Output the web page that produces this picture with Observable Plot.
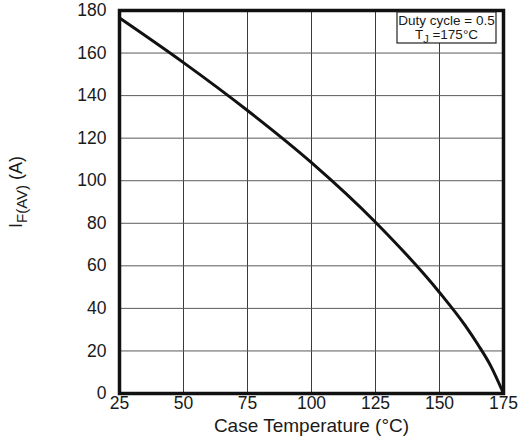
<!DOCTYPE html>
<html>
<head>
<meta charset="utf-8">
<script src="https://cdn.jsdelivr.net/npm/d3@7"></script>
<script src="https://cdn.jsdelivr.net/npm/@observablehq/plot@0.6"></script>
<style>
  body { margin: 0; background: #fff; }
  svg { font-family: "Liberation Sans", Arial, sans-serif; }
</style>
</head>
<body>
<div id="chart"></div>
<script>
const caseTemp = [25, 50, 75, 100, 125, 150, 160, 165, 170, 175];
const current  = [176.5, 155.5, 133, 108.5, 80.5, 47.5, 32, 23, 13, 0];
const xTicks = [25, 50, 75, 100, 125, 150, 175];
const yTicks = [0, 20, 40, 60, 80, 100, 120, 140, 160, 180];
const legendLines = ["Duty cycle = 0.5", "T", "J", " =175°C"];

const data = caseTemp.map((t, i) => ({t, v: current[i]}));

const plot = Plot.plot({
  width: 520,
  height: 439,
  marginLeft: 119,
  marginRight: 17,
  marginTop: 10,
  marginBottom: 46,
  style: {fontSize: "17.5px", fontFamily: "'Liberation Sans', Arial, sans-serif", color: "#1a1a1a", background: "#fff"},
  x: {domain: [25, 175], ticks: xTicks, tickSize: 0, tickPadding: 3, label: null},
  y: {domain: [0, 180], ticks: yTicks, tickSize: 0, tickPadding: 13, label: null},
  marks: [
    Plot.gridX(xTicks, {stroke: "#3a3a3a", strokeOpacity: 1, strokeWidth: 1}),
    Plot.gridY(yTicks, {stroke: "#5a5a5a", strokeOpacity: 1, strokeWidth: 1}),
    Plot.line(data, {x: "t", y: "v", stroke: "#111", strokeWidth: 3, curve: "monotone-x"}),
    Plot.frame({stroke: "#111", strokeWidth: 3.5}),
    Plot.axisX({ticks: xTicks, tickSize: 0, tickPadding: 3, fontSize: 17.5}),
    Plot.axisY({ticks: yTicks, tickSize: 0, tickPadding: 13, fontSize: 17.5}),
    Plot.text(["Case Temperature (°C)"], {frameAnchor: "bottom", dy: 38, fontSize: 19, fill: "#1a1a1a"})
  ]
});

document.getElementById("chart").appendChild(plot);
const svg = d3.select(plot);
const xs = plot.scale("x"), ys = plot.scale("y");
const plotRight = xs.apply(175), plotTop = ys.apply(180);

// legend box
const bw = 99, bh = 31;
const g = svg.append("g");
g.append("rect").attr("x", plotRight - 7 - bw).attr("y", plotTop + 2).attr("width", bw).attr("height", bh)
  .attr("fill", "#fff").attr("stroke", "#222").attr("stroke-width", 1.2);
const cx = plotRight - 7 - bw / 2;
g.append("text").attr("x", cx).attr("y", plotTop + 15).attr("text-anchor", "middle")
  .attr("font-size", 13.5).attr("fill", "#1a1a1a").text(legendLines[0]);
const t2 = g.append("text").attr("x", cx).attr("y", plotTop + 29).attr("text-anchor", "middle")
  .attr("font-size", 13.5).attr("fill", "#1a1a1a");
t2.append("tspan").text(legendLines[1]);
t2.append("tspan").attr("dy", 4).attr("font-size", 11).text(legendLines[2]);
t2.append("tspan").attr("dy", -4).text(legendLines[3]);

// y-axis label
const yl = svg.append("text").attr("transform", "translate(22,192) rotate(-90)")
  .attr("text-anchor", "middle").attr("font-size", 18).attr("fill", "#1a1a1a");
yl.append("tspan").text("I");
yl.append("tspan").attr("dy", 5).attr("font-size", 15).text("F(AV)");
yl.append("tspan").attr("dy", -5).text(" (A)");
</script>
</body>
</html>
